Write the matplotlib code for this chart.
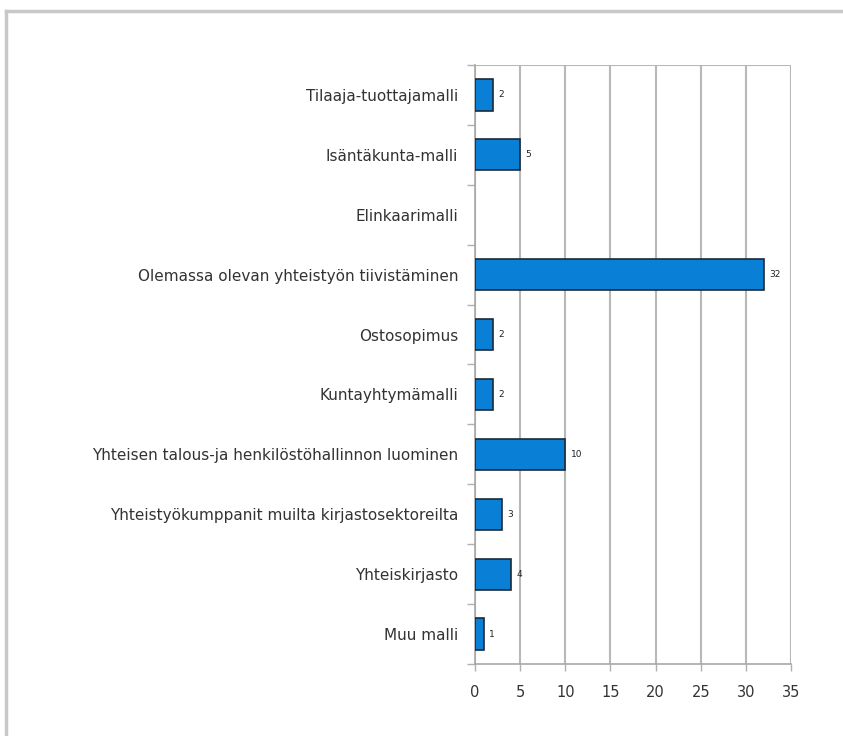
import matplotlib
matplotlib.use("Agg")
import matplotlib.pyplot as plt
import numpy as np

categories = [
    "Tilaaja-tuottajamalli",
    "Isäntäkunta-malli",
    "Elinkaarimalli",
    "Olemassa olevan yhteistyön tiivistäminen",
    "Ostosopimus",
    "Kuntayhtymämalli",
    "Yhteisen talous-ja henkilöstöhallinnon luominen",
    "Yhteistyökumppanit muilta kirjastosektoreilta",
    "Yhteiskirjasto",
    "Muu malli",
]
values = [2, 5, 0, 32, 2, 2, 10, 3, 4, 1]
xticks = [0, 5, 10, 15, 20, 25, 30, 35]

plt.rcParams['font.family'] = ['DejaVu Sans']

fig = plt.figure(figsize=(8.43, 7.36), dpi=100)
W, H = 843, 736
ax = fig.add_axes([475 / W, 1 - 664 / H, (791 - 475) / W, (664 - 65) / H])

y = np.arange(len(categories))
for yi, v in zip(y, values):
    if v > 0:
        ax.barh(yi, v, height=0.52, color='#0a7fd6', edgecolor='#1a2a3a', linewidth=1.2, zorder=3)
        ax.text(v + 0.6, yi, str(v), va='center', ha='left', fontsize=6.5, color='#222222', zorder=4)

ax.set_ylim(len(categories) - 0.5, -0.5)
ax.set_xlim(0, 35)
ax.set_yticks(y)
ax.set_yticklabels(categories, fontsize=11, color='#333333')
ax.set_yticks(np.arange(len(categories) + 1) - 0.5, minor=True)
ax.tick_params(axis='y', which='major', length=0, pad=12)
ax.tick_params(axis='y', which='minor', length=6, color='#b0b0b0', width=1)
ax.set_xticks(xticks)
ax.set_xticklabels([str(t) for t in xticks], fontsize=10.5, color='#333333')
ax.tick_params(axis='x', length=5, color='#b0b0b0', width=1, pad=10)
ax.grid(axis='x', color='#b8b8b8', linewidth=1.5, zorder=0)
for s in ['top', 'right']:
    ax.spines[s].set_visible(False)
ax.spines['left'].set_color('#a8a8a8')
ax.spines['bottom'].set_color('#a8a8a8')
ax.spines['left'].set_linewidth(1.2)
ax.spines['bottom'].set_linewidth(1.2)

ax.axhline(-0.5, color='#b8b8b8', linewidth=1.5, zorder=1)

# figure frame (top and left)
fig.add_artist(plt.Line2D([6 / W, 1], [1 - 11 / H, 1 - 11 / H], color='#c8c8c8', linewidth=2.5))
fig.add_artist(plt.Line2D([6 / W, 6 / W], [0, 1 - 11 / H], color='#c8c8c8', linewidth=2.5))

fig.savefig('out.png', dpi=100)
